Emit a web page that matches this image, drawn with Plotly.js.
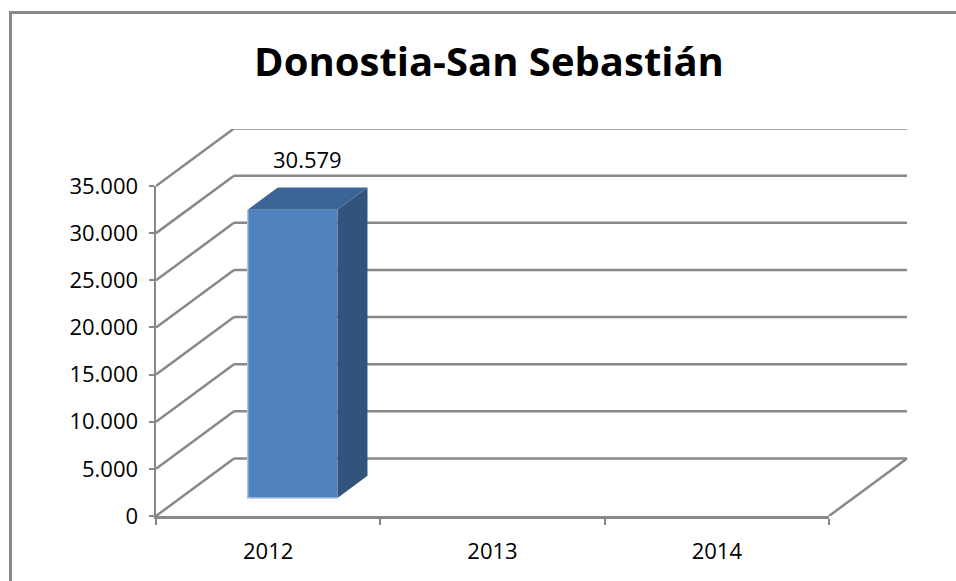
<!DOCTYPE html>
<html>
<head>
<meta charset="utf-8">
<script src="https://cdn.plot.ly/plotly-3.0.1.min.js"></script>
<style>html,body{margin:0;padding:0;background:#fff;}#chart{width:956px;height:581px;}</style>
</head>
<body>
<div id="chart"></div>
<script>
// ---- data ----
const categories = ['2012', '2013', '2014'];
const values = [30579, null, null];
const yTicks = [0, 5000, 10000, 15000, 20000, 25000, 30000, 35000];
const chartTitle = 'Donostia-San Sebastián';

// ---- 3D look parameters (style only) ----
const DX = 0.3477;      // depth offset in category units
const DY = 6098;        // depth offset in value units
const F0 = 0.313;       // bar front depth fraction
const FD = 0.385;       // bar depth fraction
const HALF = 0.2;       // half bar width
const GRID = '#888888';
const YMAX = 35000;
const YTOP = 387 * YMAX / 330;
const XRIGHT = -0.5 + 752 / (673 / 3);

function fmt(v) {
  return String(Math.round(v)).replace(/\B(?=(\d{3})+(?!\d))/g, '.');
}

const n = categories.length;
const xs = categories.map((c, i) => i);
const left = -0.5, right = n - 0.5;

// back wall grid lines + side wall diagonals
const gx = [], gy = [], sx = [], sy = [];
yTicks.forEach(v => {
  gx.push(left + DX, right + DX, null); gy.push(v + DY, v + DY, null);
  sx.push(left, left + DX, null); sy.push(v, v + DY, null);
});
// floor right edge
sx.push(right, right + DX, null); sy.push(0, DY, null);

const traces = [
  {x: gx, y: gy, mode: 'lines', line: {color: GRID, width: 2.5}, hoverinfo: 'skip', showlegend: false},
  {x: sx, y: sy, mode: 'lines', line: {color: GRID, width: 2.5}, hoverinfo: 'skip', showlegend: false}
];

const annotations = [];
values.forEach((v, i) => {
  if (v === null || v === undefined) return;
  const c = xs[i];
  const fx = c + F0 * DX, fy = F0 * DY;
  const bx = c + (F0 + FD) * DX, by = (F0 + FD) * DY;
  // side face
  traces.push({x: [fx + HALF, bx + HALF, bx + HALF, fx + HALF, fx + HALF],
               y: [fy, by, v + by, v + fy, fy],
               mode: 'lines', fill: 'toself', fillcolor: '#31537C', line: {width: 0, color: '#31537C'},
               hoverinfo: 'skip', showlegend: false});
  // top face
  traces.push({x: [fx - HALF, fx + HALF, bx + HALF, bx - HALF, fx - HALF],
               y: [v + fy, v + fy, v + by, v + by, v + fy],
               mode: 'lines', fill: 'toself', fillcolor: '#3C6494', line: {width: 0, color: '#3C6494'},
               hoverinfo: 'skip', showlegend: false});
  // front face
  traces.push({x: [fx - HALF, fx + HALF, fx + HALF, fx - HALF, fx - HALF],
               y: [fy, fy, v + fy, v + fy, fy],
               mode: 'lines', fill: 'toself', fillcolor: '#4F81BD', line: {width: 0, color: '#4F81BD'},
               hoverinfo: 'skip', showlegend: false});
  // light edge on front face (left + bottom)
  traces.push({x: [fx - HALF, fx - HALF, fx + HALF],
               y: [v + fy, fy, fy],
               mode: 'lines', line: {width: 1.5, color: '#A9C3E4'},
               hoverinfo: 'skip', showlegend: false});
  annotations.push({x: c + (F0 + FD / 2) * DX, y: v + (F0 + FD) * DY, xref: 'x', yref: 'y',
                    text: fmt(v), showarrow: false, yanchor: 'middle', yshift: 29,
                    font: {family: 'Open Sans, sans-serif', size: 22, color: '#000'}});
});

// empty trace for the front axes subplot
traces.push({x: [], y: [], xaxis: 'x2', yaxis: 'y2', mode: 'markers', hoverinfo: 'skip', showlegend: false});

const layout = {
  width: 956, height: 581,
  margin: {l: 156, r: 48, t: 129, b: 65},
  paper_bgcolor: '#fff', plot_bgcolor: 'rgba(0,0,0,0)',
  separators: ',.',
  showlegend: false,
  title: {text: chartTitle, x: 489 / 956, xref: 'container', xanchor: 'center',
          y: 1 - 62 / 581, yref: 'container', yanchor: 'middle',
          font: {family: 'Open Sans, sans-serif', size: 40, weight: 'bold', color: '#000'}},
  xaxis: {range: [-0.5, XRIGHT], visible: false, fixedrange: true},
  yaxis: {range: [0, YTOP], visible: false, fixedrange: true},
  xaxis2: {domain: [0, 673 / 752], range: [-0.5, n - 0.5], anchor: 'y2',
           tickmode: 'array', tickvals: xs, ticktext: categories, ticks: '',
           showline: true, linecolor: GRID, linewidth: 2.5, showgrid: false, zeroline: false,
           ticklabelstandoff: 14,
           minor: {tickmode: 'array', tickvals: [-0.5, 0.5, 1.5, 2.5], ticks: 'outside', ticklen: 6,
                   tickwidth: 2, tickcolor: GRID, showgrid: false},
           tickfont: {family: 'Open Sans, sans-serif', size: 22, color: '#000'}, fixedrange: true},
  yaxis2: {domain: [0, 330 / 387], range: [0, YMAX], anchor: 'x2',
           tickmode: 'array', tickvals: yTicks, ticktext: yTicks.map(fmt),
           ticks: 'outside', ticklen: 5, tickwidth: 2, tickcolor: GRID,
           showline: true, linecolor: GRID, linewidth: 2.5, showgrid: false, zeroline: false,
           ticklabelstandoff: 6,
           tickfont: {family: 'Open Sans, sans-serif', size: 22, color: '#000'}, fixedrange: true},
  shapes: [{type: 'rect', xref: 'paper', yref: 'paper',
            x0: (10.5 - 156) / 752, x1: 1.2, y0: -0.3, y1: (516 - 12.5) / 387,
            line: {color: '#888', width: 3}, fillcolor: 'rgba(0,0,0,0)'}],
  annotations: annotations
};

Plotly.newPlot('chart', traces, layout, {displayModeBar: false, staticPlot: true});
</script>
</body>
</html>
